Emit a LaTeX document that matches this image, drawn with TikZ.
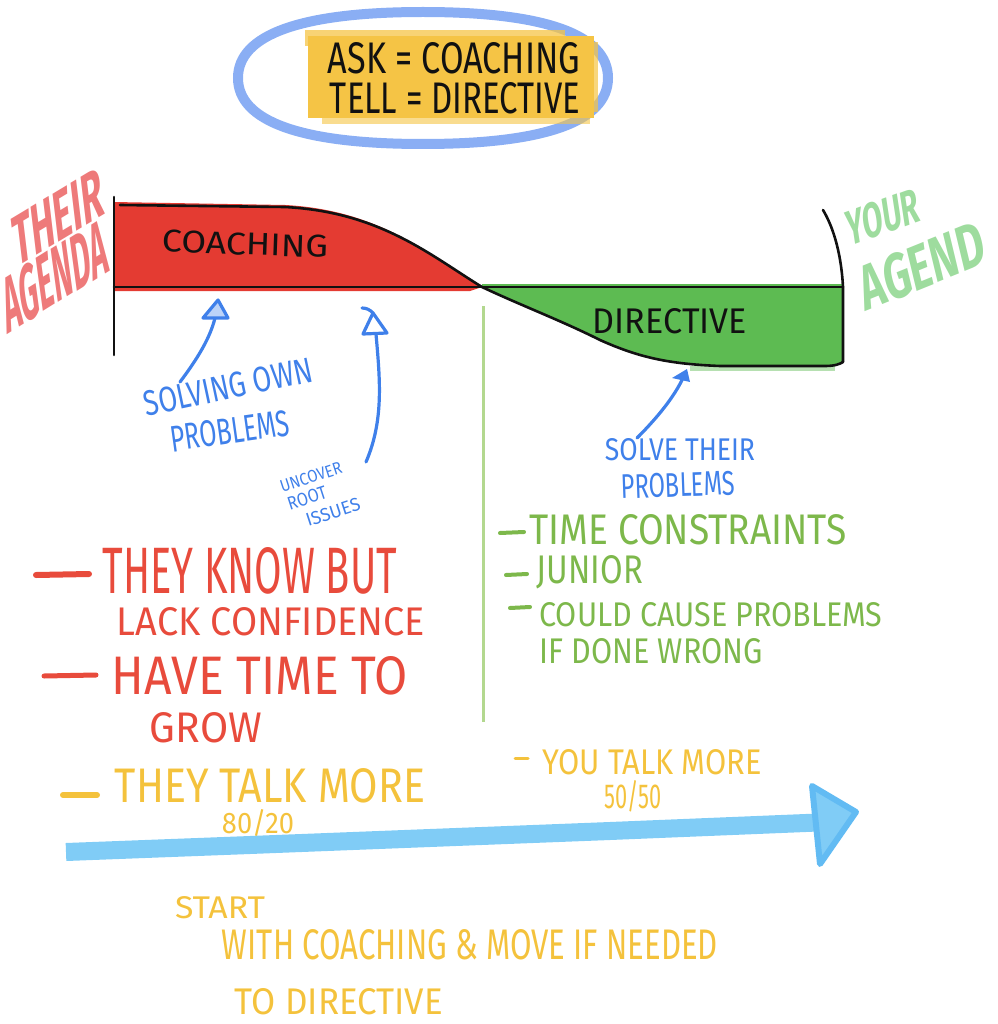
\documentclass[tikz,border=0pt]{standalone}
\usepackage{fontspec}
\setmainfont{Fira Sans}
\usepackage{graphicx}
\definecolor{ellblue}{HTML}{8AAEF4}
\definecolor{hlyellow}{HTML}{F5C445}
\definecolor{redfill}{HTML}{E43B32}
\definecolor{greenfill}{HTML}{5DBB52}
\definecolor{theirred}{HTML}{EE7A7A}
\definecolor{yourgreen}{HTML}{9EDC9E}
\definecolor{penblue}{HTML}{3F80EA}
\definecolor{pengreen}{HTML}{7DB84B}
\definecolor{penred}{HTML}{E84B3C}
\definecolor{penyellow}{HTML}{F4C23C}
\definecolor{arrowblue}{HTML}{80CCF6}
\definecolor{arrowhead}{HTML}{62BBF3}
\definecolor{lightgreen}{HTML}{B3D88F}
\definecolor{ink}{HTML}{111111}
\newcommand{\hwt}[3]{\resizebox{#1pt}{#2pt}{#3}}
\begin{document}
\begin{tikzpicture}[x=1pt,y=-1pt,
  hw/.style={inner sep=0pt, outer sep=0pt, anchor=center},
  axisline/.style={draw=ink, line width=2.6pt, line cap=round, line join=round},
  bluepen/.style={draw=penblue, line width=3.2pt, line cap=round, line join=round},
  dashmark/.style={line width=#1, line cap=round},
]
\useasboundingbox (0,0) rectangle (997,1024);

% ---------- top legend ----------
\draw[ellblue, line width=10pt]
  (238,78) .. controls (238,35) and (300,12) .. (423,12)
  .. controls (546,12) and (608,35) .. (608,78)
  .. controls (608,121) and (546,144) .. (423,144)
  .. controls (300,144) and (238,121) .. cycle;
\fill[hlyellow] (308,36) rectangle (594,118);
\fill[hlyellow, opacity=0.75] (305,30) rectangle (565,46);
\fill[hlyellow, opacity=0.6] (322,110) rectangle (590,124);
\fill[hlyellow, opacity=0.7] (584,42) rectangle (598,112);
\node[hw, text=ink] (ask) at (454,58) {\hwt{252}{31}{ASK = COACHING}};
\node[hw, text=ink] (tell) at (455,98) {\hwt{250}{31}{TELL = DIRECTIVE}};

% ---------- chart fills ----------
\coordinate (cross) at (482,287);
\fill[redfill] (113,202) -- (285,205) .. controls (380,210) and (430,255) .. (cross)
  -- (470,291) -- (113,291) -- cycle;
\fill[greenfill] (cross) .. controls (520,305) and (560,320) .. (600,340)
  .. controls (640,358) and (670,364) .. (720,366) -- (825,366)
  .. controls (835,366) and (840,364) .. (843,362) -- (843,284) -- (482,284) -- cycle;
\fill[greenfill, opacity=0.45] (690,366) rectangle (835,371);

% ---------- chart lines ----------
\coordinate (ytop) at (114,197);
\coordinate (ybot) at (114,355);
\coordinate (xleft) at (114,287);
\coordinate (xright) at (843,287);
\coordinate (rtop) at (823,210);
\coordinate (rbot) at (843,362);
\draw[axisline] (ytop) -- (ybot);
\draw[axisline] (xleft) -- (xright);
\draw[axisline] (rtop) .. controls (832,225) and (841,250) .. (xright) -- (rbot);
\draw[axisline] (120,205) -- (285,207) .. controls (380,212) and (430,255) .. (cross)
  .. controls (520,305) and (560,320) .. (600,340)
  .. controls (640,358) and (670,364) .. (720,366) -- (825,366)
  .. controls (835,366) and (840,364) .. (rbot);

\node[hw, text=ink, rotate=-2] (coaching) at (245,244) {\hwt{166}{22}{COACHING}};
\node[hw, text=ink] (directive) at (670,321) {\hwt{154}{25}{DIRECTIVE}};

% ---------- agenda labels ----------
\node[hw, text=theirred, rotate=31, xslant=0.45, font=\bfseries] (their) at (58,217) {\hwt{104}{44}{THEIR}};
\node[hw, text=theirred, rotate=32, xslant=0.45, font=\bfseries] (agenda) at (55,276) {\hwt{120}{50}{AGENDA}};
\node[hw, text=yourgreen, rotate=20, xslant=0.2, font=\bfseries] (your) at (883,217) {\hwt{76}{34}{YOUR}};
\node[hw, text=yourgreen, rotate=22, xslant=0.15, font=\bfseries] (agend) at (922,266) {\hwt{132}{44}{AGEND}};

% ---------- divider ----------
\coordinate (divtop) at (483,306);
\coordinate (divbot) at (483,722);
\draw[lightgreen, line width=3pt] (divtop) -- (divbot);

% ---------- blue annotations ----------
\node[hw, text=penblue, rotate=12] (solving) at (228,387) {\hwt{172}{25}{SOLVING OWN}};
\node[hw, text=penblue, rotate=8] (problems1) at (230,431) {\hwt{120}{26}{PROBLEMS}};
\node[hw, text=penblue, rotate=18] (uncover) at (311,477) {\hwt{64}{12}{UNCOVER}};
\node[hw, text=penblue, rotate=18] (root) at (307,498) {\hwt{40}{13}{ROOT}};
\node[hw, text=penblue, rotate=18] (issues) at (333,512) {\hwt{56}{13}{ISSUES}};
\node[hw, text=penblue] (solvetheir) at (680,450) {\hwt{150}{22}{SOLVE THEIR}};
\node[hw, text=penblue, rotate=2] (problems2) at (678,485) {\hwt{114}{24}{PROBLEMS}};

% arrow 1
\coordinate (a1s) at (180,382);
\coordinate (a1e) at (215,318);
\draw[bluepen] (a1s) .. controls (198,358) and (210,338) .. (a1e);
\draw[bluepen, fill=penblue!35] (218,300) -- (203,318) -- (228,318) -- cycle;
% arrow 2
\coordinate (a2s) at (366,462);
\coordinate (a2e) at (376,334);
\draw[bluepen] (a2s) .. controls (384,420) and (380,380) .. (a2e);
\draw[bluepen] (363,334) -- (373,313) -- (387,333) -- cycle;
\draw[bluepen] (362,308) .. controls (367,308) and (370,310) .. (373,313);
% arrow 3
\coordinate (a3s) at (637,438);
\coordinate (a3e) at (683,378);
\draw[bluepen] (a3s) .. controls (660,415) and (675,395) .. (a3e);
\fill[penblue] (672,378) -- (687,369) -- (690,382) -- cycle;

% ---------- green list ----------
\draw[pengreen, dashmark=4pt] (500,533) -- (524,532);
\node[hw, text=pengreen] (timec) at (688,530) {\hwt{317}{30}{TIME CONSTRAINTS}};
\draw[pengreen, dashmark=4pt] (506,575) -- (527,574);
\node[hw, text=pengreen] (junior) at (590,572) {\hwt{106}{28}{JUNIOR}};
\draw[pengreen, dashmark=4pt] (510,608) -- (530,607);
\node[hw, text=pengreen] (could) at (711,615) {\hwt{343}{24}{COULD CAUSE PROBLEMS}};
\node[hw, text=pengreen] (ifdone) at (651,651) {\hwt{223}{25}{IF DONE WRONG}};

% ---------- red list ----------
\draw[penred, dashmark=6pt] (36,575) -- (89,574);
\node[hw, text=penred] (know) at (250,571) {\hwt{294}{46}{THEY KNOW BUT}};
\node[hw, text=penred] (lack) at (271,622) {\hwt{308}{28}{LACK CONFIDENCE}};
\draw[penred, dashmark=5pt] (44,676) -- (96,675);
\node[hw, text=penred] (havetime) at (260,676) {\hwt{296}{38}{HAVE TIME TO}};
\node[hw, text=penred] (grow) at (206,728) {\hwt{112}{30}{GROW}};

% ---------- talk ratio ----------
\draw[penyellow, dashmark=6pt] (63,795) -- (97,795);
\node[hw, text=penyellow] (theytalk) at (270,786) {\hwt{310}{34}{THEY TALK MORE}};
\node[hw, text=penyellow] (eighty) at (258,823) {\hwt{72}{24}{80/20}};
\draw[penyellow, dashmark=3pt] (515,758) -- (528,758);
\node[hw, text=penyellow] (youtalk) at (652,762) {\hwt{219}{25}{YOU TALK MORE}};
\node[hw, text=penyellow] (fifty) at (633,796) {\hwt{57}{28}{50/50}};

% ---------- big arrow ----------
\coordinate (bigs) at (66,852);
\coordinate (bige) at (830,822);
\draw[arrowblue, line width=18pt, line join=round]
  (bigs) -- (250,845) -- (430,838) -- (610,831) -- (bige);
\filldraw[fill=arrowblue, draw=arrowhead, line width=6pt, line join=round]
  (812,786) -- (856,812) -- (820,864) -- cycle;

% ---------- bottom note ----------
\node[hw, text=penyellow] (start) at (220,908) {\hwt{90}{22}{START}};
\node[hw, text=penyellow] (withc) at (470,945) {\hwt{496}{30}{WITH COACHING \& MOVE IF NEEDED}};
\node[hw, text=penyellow] (todir) at (339,1002) {\hwt{208}{26}{TO DIRECTIVE}};
\end{tikzpicture}
\end{document}
